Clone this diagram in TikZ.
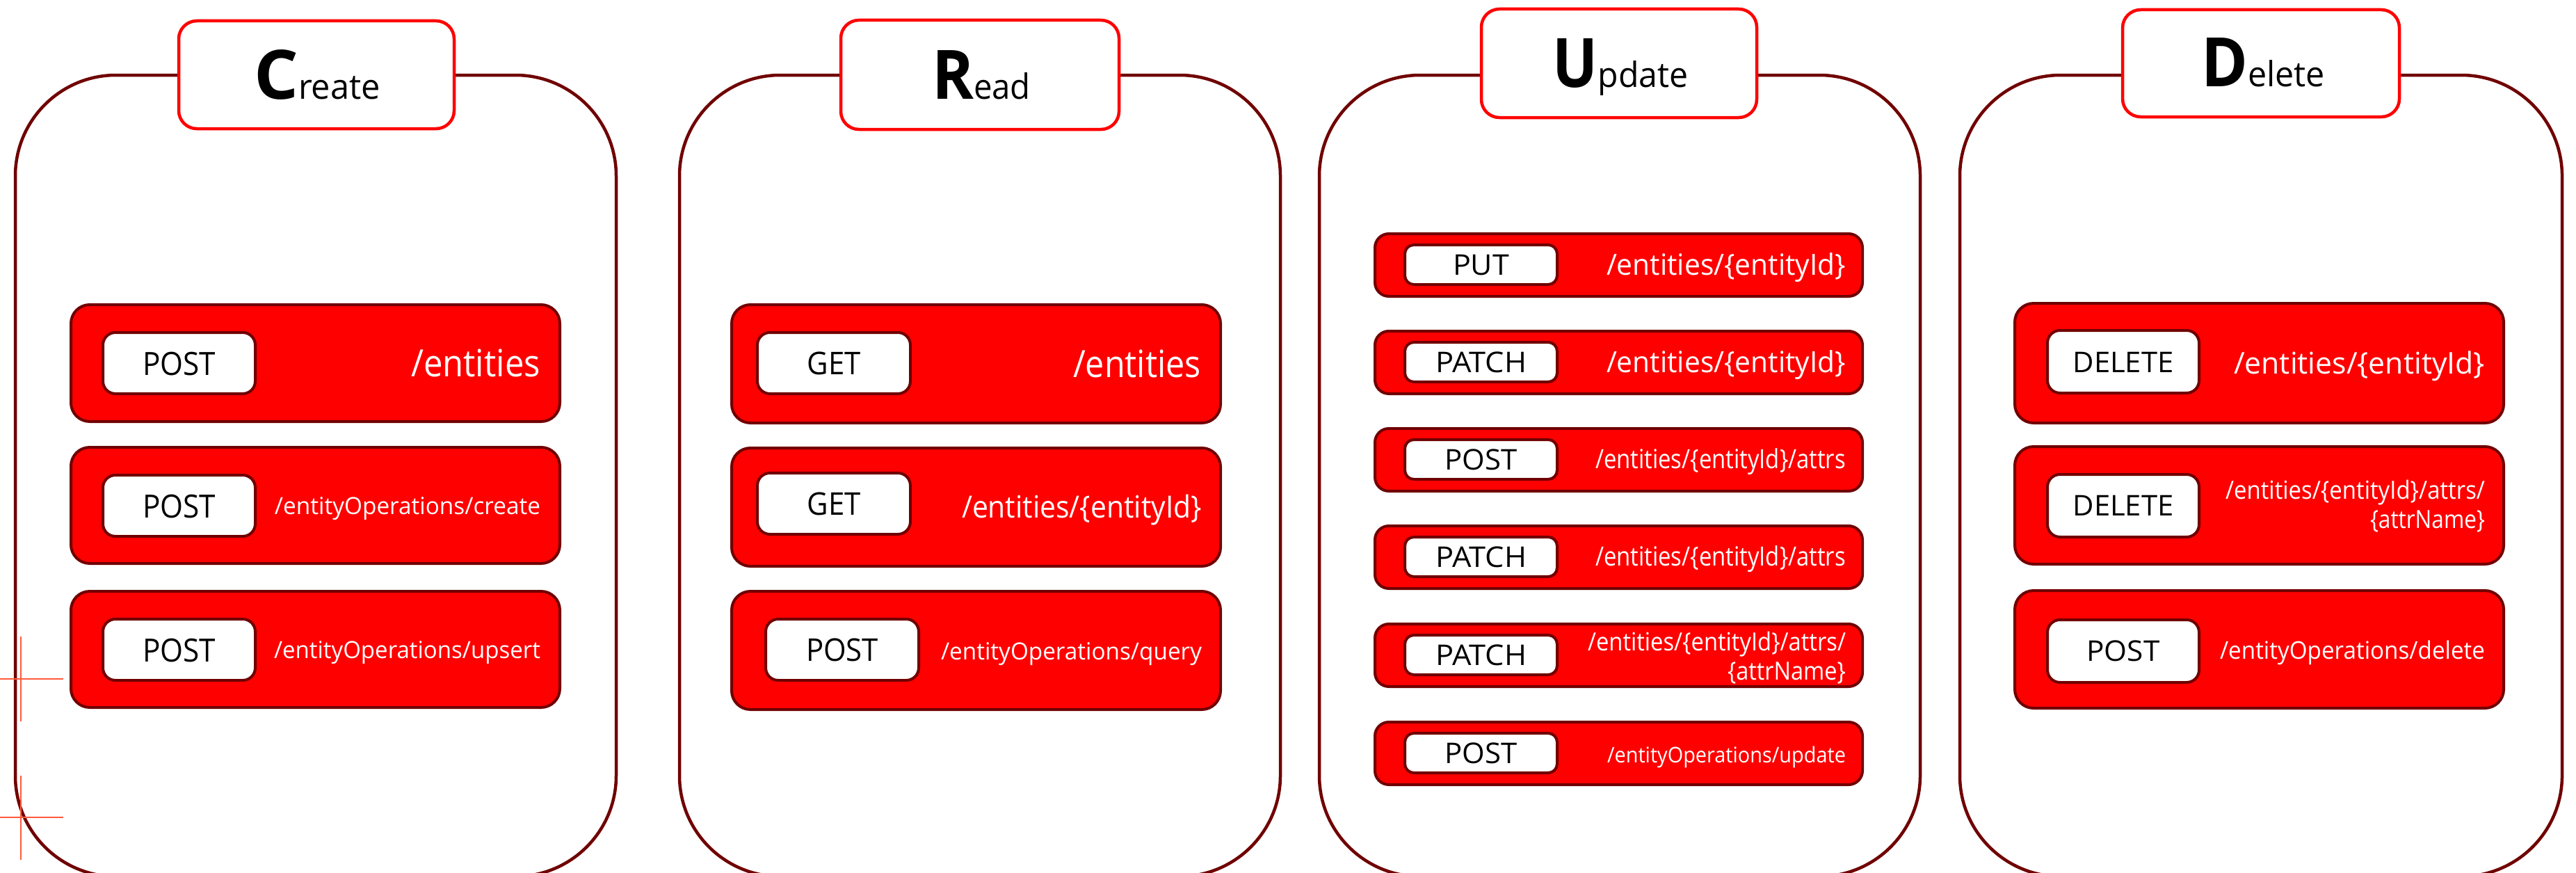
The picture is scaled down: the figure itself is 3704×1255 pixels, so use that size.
\documentclass[tikz,border=0pt]{standalone}
\usepackage{fontspec}
\setmainfont{Open Sans}
\usepackage{graphicx}
\definecolor{panelc}{HTML}{700000}
\definecolor{crossc}{HTML}{FF5A3C}
\newcommand\tx[3]{\fontsize{#1pt}{#1pt}\selectfont\resizebox{#2pt}{\height}{#3}}
\newcommand\ttl[5]{{\bfseries\tx{98}{#2}{#1}}{\tx{50}{#4}{#3}}}
\begin{document}
\begin{tikzpicture}[x=1pt,y=-1pt,
  panel/.style={draw=panelc, line width=4.5pt, fill=white, rounded corners=145pt},
  lab/.style={draw=red, line width=4.5pt, fill=white, rounded corners=26pt},
  rbox/.style={draw=panelc, line width=4pt, fill=red, rounded corners=27pt},
  rboxs/.style={rbox, rounded corners=20pt},
  wbox/.style={draw=panelc, line width=4pt, fill=white, rounded corners=18pt},
  wboxs/.style={wbox, rounded corners=13pt},
  txt/.style={inner sep=0pt, outer sep=0pt},
  pth/.style={txt, text=white, anchor=base east},
  meth/.style={txt, text=black, anchor=base},
  cross/.style={draw=crossc, line width=1.7pt}]
\useasboundingbox (0,0) rectangle (3704,1255);
\fill[white] (0,0) rectangle (3704,1255);

% panels
\draw[panel] (22,108) rectangle (886,1260);
\draw[panel] (977,108) rectangle (1841,1260);
\draw[panel] (1897,108) rectangle (2761,1260);
\draw[panel] (2818,108) rectangle (3684,1260);

% crosshair guides
\draw[cross] (0,976) -- (91,976);
\draw[cross] (30,915) -- (30,1037);
\draw[cross] (0,1175) -- (91,1175);
\draw[cross] (30,1115) -- (30,1236);

% title labels
\draw[lab] (257,30) rectangle (653,185);
\draw[lab] (1209,29) rectangle (1609,186);
\draw[lab] (2130,13) rectangle (2526,169);
\draw[lab] (3052,14) rectangle (3450,168);
\node[meth] (tC) at (456,142) {\ttl{C}{64}{reate}{118}{}};
\node[meth] (tR) at (1411,142) {\ttl{R}{60}{ead}{82}{}};
\node[meth] (tU) at (2330,125) {\ttl{U}{65}{pdate}{130}{}};
\node[meth] (tD) at (3254,124) {\ttl{D}{67}{elete}{111}{}};

% ---------- Create ----------
\draw[rbox] (102,438) rectangle (805,606);
\draw[rbox] (102,643) rectangle (805,810);
\draw[rbox] (102,850) rectangle (805,1017);
\draw[wbox] (148,478) rectangle (367,566);
\draw[wbox] (148,683) rectangle (367,771);
\draw[wbox] (148,890) rectangle (367,978);
\node[meth] (c1m) at (257.5,539) {\tx{46}{105}{POST}};
\node[meth] (c2m) at (257.5,744) {\tx{46}{105}{POST}};
\node[meth] (c3m) at (257.5,951) {\tx{46}{105}{POST}};
\node[pth] (c1p) at (777,541) {\tx{54}{186}{/entities}};
\node[pth] (c2p) at (777,739) {\tx{34}{382}{/entityOperations/create}};
\node[pth] (c3p) at (777,946) {\tx{34}{383}{/entityOperations/upsert}};

% ---------- Read ----------
\draw[rbox] (1052,438) rectangle (1755,608);
\draw[rbox] (1052,644) rectangle (1755,814);
\draw[rbox] (1052,850) rectangle (1755,1020);
\draw[wbox] (1089,478) rectangle (1309,566);
\draw[wbox] (1089,680) rectangle (1309,768);
\draw[wbox] (1101,890) rectangle (1321,978);
\node[meth] (r1m) at (1199,538) {\tx{45}{77}{GET}};
\node[meth] (r2m) at (1199,740) {\tx{45}{77}{GET}};
\node[meth] (r3m) at (1211,950) {\tx{45}{104}{POST}};
\node[pth] (r1p) at (1727,542) {\tx{54}{184}{/entities}};
\node[pth] (r2p) at (1728,744) {\tx{44}{345}{/entities/\{entityId\}}};
\node[pth] (r3p) at (1728,948) {\tx{34}{375}{/entityOperations/query}};

% ---------- Update ----------
\foreach \t in {336,476,616,756,897,1038}{
  \draw[rboxs] (1977,\t) rectangle (2678,\t+90);
  \draw[wboxs] (2020,\t+16) rectangle (2239,\t+73);
}
\node[meth] (u1m) at (2129.5,395.5) {\tx{41}{81}{PUT}};
\node[meth] (u2m) at (2129.5,535.5) {\tx{41}{131}{PATCH}};
\node[meth] (u3m) at (2129.5,675.5) {\tx{41}{104}{POST}};
\node[meth] (u4m) at (2129.5,815.5) {\tx{41}{131}{PATCH}};
\node[meth] (u5m) at (2129.5,956.5) {\tx{41}{131}{PATCH}};
\node[meth] (u6m) at (2129.5,1097.5) {\tx{41}{104}{POST}};
\node[pth] (u1p) at (2654,395) {\tx{42}{344}{/entities/\{entityId\}}};
\node[pth] (u2p) at (2654,535) {\tx{42}{344}{/entities/\{entityId\}}};
\node[pth] (u3p) at (2654,673) {\tx{38}{360}{/entities/\{entityId\}/attrs}};
\node[pth] (u4p) at (2654,813) {\tx{38}{360}{/entities/\{entityId\}/attrs}};
\node[pth] (u5p) at (2654,935) {\tx{36}{371}{/entities/\{entityId\}/attrs/}};
\node[pth] (u5q) at (2654,977) {\tx{36}{170}{\{attrName\}}};
\node[pth] (u6p) at (2654,1096) {\tx{31}{343}{/entityOperations/update}};

% ---------- Delete ----------
\draw[rbox] (2897,436) rectangle (3600,608);
\draw[rbox] (2897,642) rectangle (3600,811);
\draw[rbox] (2897,849) rectangle (3600,1018);
\draw[wbox] (2944,475) rectangle (3162,565);
\draw[wbox] (2944,682) rectangle (3162,772);
\draw[wbox] (2944,891) rectangle (3162,981);
\node[meth] (d1m) at (3053,535) {\tx{41}{145}{DELETE}};
\node[meth] (d2m) at (3053,741.5) {\tx{41}{145}{DELETE}};
\node[meth] (d3m) at (3053,950.5) {\tx{41}{105}{POST}};
\node[pth] (d1p) at (3573,537) {\tx{43}{361}{/entities/\{entityId\}}};
\node[pth] (d2p) at (3573,717) {\tx{36}{373}{/entities/\{entityId\}/attrs/}};
\node[pth] (d2q) at (3573,759) {\tx{36}{165}{\{attrName\}}};
\node[pth] (d3p) at (3573,947) {\tx{35}{381}{/entityOperations/delete}};
\end{tikzpicture}
\end{document}
